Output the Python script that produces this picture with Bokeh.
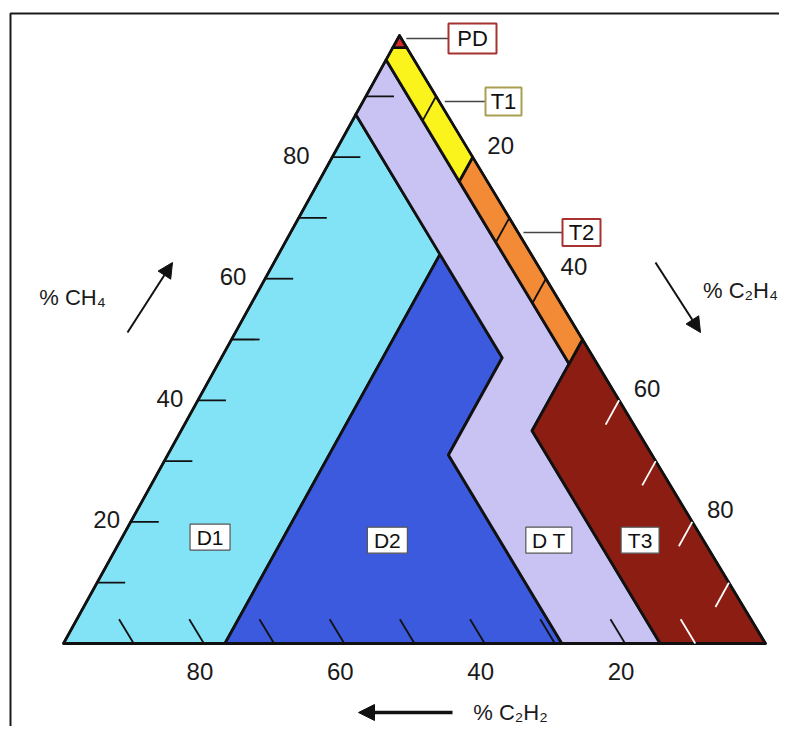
from bokeh.plotting import figure
from bokeh.models import Range1d, Arrow, NormalHead
from bokeh.core.properties import value
from bokeh.embed import file_html
from bokeh.resources import INLINE

# ---------------- data: Duval triangle zones ----------------
# each vertex given as (%CH4, %C2H4); %C2H2 = 100 - CH4 - C2H4
PD_CH4 = [100, 98, 98]
PD_C2H4 = [0, 2, 0]
T1_CH4 = [98, 80, 76, 96, 98]
T1_C2H4 = [2, 20, 20, 0, 0]
T2_CH4 = [80, 50, 46, 76]
T2_C2H4 = [20, 50, 50, 20]
T3_CH4 = [50, 0, 0, 35, 46]
T3_C2H4 = [50, 100, 85, 50, 50]
DT_CH4 = [96, 76, 46, 35, 0, 0, 31, 47, 64, 87]
DT_C2H4 = [0, 20, 50, 50, 85, 71, 40, 40, 23, 0]
D1_CH4 = [87, 64, 0, 0]
D1_C2H4 = [0, 23, 23, 0]
D2_CH4 = [64, 47, 31, 0, 0]
D2_C2H4 = [23, 40, 40, 71, 23]

ZONE_NAMES = ["D1", "D2", "DT", "T3", "T2", "T1", "PD"]
ZONE_CH4 = [D1_CH4, D2_CH4, DT_CH4, T3_CH4, T2_CH4, T1_CH4, PD_CH4]
ZONE_C2H4 = [D1_C2H4, D2_C2H4, DT_C2H4, T3_C2H4, T2_C2H4, T1_C2H4, PD_C2H4]

TICK_VALUES = [10, 20, 30, 40, 50, 60, 70, 80, 90]
TICK_LABELS = [20, 40, 60, 80]
TICK_LEN = 4  # in percent

# zone label anchor compositions (%CH4, %C2H4)
BOX_LABELS = ["D1", "D2", "D T", "T3"]
BOX_CH4 = [17.5, 17, 17, 17]
BOX_C2H4 = [12.5, 38, 61, 74]

# ---------------- styling / layout ----------------
COLORS = {
    "D1": "#82e3f7", "D2": "#3c5ade", "DT": "#c9c3f3", "T3": "#8c1d12",
    "T2": "#f28a36", "T1": "#fbf31c", "PD": "#d42b2b",
}
TOP = (399.0, 35.0)      # 100 % CH4
RIGHT = (765.0, 643.0)   # 100 % C2H4
LEFT = (63.0, 643.0)     # 100 % C2H2
FONT = value("Liberation Sans")
W, H = 779, 726


def tern(ch4, c2h4):
    c2h2 = 100.0 - ch4 - c2h4
    x = (ch4 * TOP[0] + c2h4 * RIGHT[0] + c2h2 * LEFT[0]) / 100.0
    y = (ch4 * TOP[1] + c2h4 * RIGHT[1] + c2h2 * LEFT[1]) / 100.0
    return x, y


p = figure(width=W, height=H, x_range=Range1d(0, W), y_range=Range1d(H, 0),
           output_backend="svg", toolbar_location=None, min_border=0,
           x_axis_type=None, y_axis_type=None)
p.grid.visible = False
p.outline_line_color = None
p.background_fill_color = "white"

# frame (top and left edges visible)
p.line(x=[10, 10, W + 5], y=[H + 5, 13, 13], line_color="#1a1a1a", line_width=2)

# zones
xs, ys, cols = [], [], []
for name, cs, es in zip(ZONE_NAMES, ZONE_CH4, ZONE_C2H4):
    pts = [tern(c, e) for c, e in zip(cs, es)]
    xs.append([q[0] for q in pts])
    ys.append([q[1] for q in pts])
    cols.append(COLORS[name])
p.patches(xs, ys, fill_color=cols, line_color="#111111", line_width=2.8, line_join="round")

# outer triangle
corners = [tern(100, 0), tern(0, 100), tern(0, 0)]
p.patch([q[0] for q in corners], [q[1] for q in corners], fill_color=None,
        line_color="#111111", line_width=2.2, line_join="round")


def in_t3(ch4, c2h4):
    return c2h4 > 50 and (100 - ch4 - c2h4) < 15


# ticks
txs, tys, tcol = [], [], []
for v in TICK_VALUES:
    # left side: constant CH4
    a, b = tern(v, 0), tern(v, TICK_LEN)
    txs.append([a[0], b[0]]); tys.append([a[1], b[1]]); tcol.append("#111111")
    # right side: constant C2H4
    a, b = tern(100 - v, v), tern(100 - v - TICK_LEN, v)
    txs.append([a[0], b[0]]); tys.append([a[1], b[1]])
    tcol.append("white" if in_t3(100 - v, v) else "#111111")
    # bottom side: constant C2H2
    a, b = tern(0, 100 - v), tern(TICK_LEN, 100 - v - TICK_LEN)
    txs.append([a[0], b[0]]); tys.append([a[1], b[1]])
    tcol.append("white" if in_t3(0, 100 - v) else "#111111")
p.multi_line(txs, tys, line_color=tcol, line_width=1.8)

# tick labels
lx, ly, lt = [], [], []
for v in TICK_LABELS:
    x, y = tern(v, 0)
    lx.append(x - 20 - 0.2 * v); ly.append(y - 2); lt.append(str(v))
    x, y = tern(100 - v, v)
    lx.append(x + 28); ly.append(y - 12); lt.append(str(v))
    x, y = tern(0, 100 - v)
    lx.append(x - 4); ly.append(y + 28); lt.append(str(v))
p.text(lx, ly, text=lt, text_align="center", text_baseline="middle",
       text_font=FONT, text_font_size="24px", text_color="#1a1a1a")

# zone boxes inside the triangle
bx, by = [], []
for c, e in zip(BOX_CH4, BOX_C2H4):
    x, y = tern(c, e)
    bx.append(x); by.append(y)
p.rect(bx, by, width=[40, 40, 46, 38], height=26, fill_color="white",
       line_color="#555555", line_width=1.2)
p.text(bx, by, text=BOX_LABELS, text_align="center", text_baseline="middle",
       text_font=FONT, text_font_size="21px", text_color="#111111")

# callout boxes for PD, T1, T2 (anchored on the right edge, given as %C2H4 along it)
CALLOUTS = ["PD", "T1", "T2"]
CALL_E = [0.5, 11, 32.5]
CALL_BOX = [(472, 38, 48, 30, "#a63232"), (503, 101, 36, 28, "#a8a050"), (581, 232, 38, 27, "#a63232")]
for name, e, (cx, cy, w, h, bc) in zip(CALLOUTS, CALL_E, CALL_BOX):
    ax, ay = tern(100 - e, e)
    p.line([ax + 5, cx - w / 2], [cy, cy], line_color="#444444", line_width=1.5)
    p.rect([cx], [cy], width=w, height=h, fill_color="white", line_color=bc, line_width=2)
    p.text([cx], [cy], text=[name], text_align="center", text_baseline="middle",
           text_font=FONT, text_font_size="22px", text_color="#111111")

# axis titles
p.text([72, 740, 510], [297, 290, 712], text=["% CH\u2084", "% C\u2082H\u2084", "% C\u2082H\u2082"],
       text_align="center", text_baseline="middle", text_font=FONT,
       text_font_size="22px", text_color="#1a1a1a")

head = dict(fill_color="#111111", line_color="#111111")
for (x0, y0, x1, y1, lw, sz) in [(127, 332, 172, 262, 2, 15),
                                 (655, 262, 700, 332, 2, 15),
                                 (452, 712, 358, 712, 3.5, 16)]:
    p.add_layout(Arrow(end=NormalHead(size=sz, **head), x_start=x0, y_start=y0,
                       x_end=x1, y_end=y1, line_color="#111111", line_width=lw))

open("out.html", "w").write(file_html(p, INLINE))
